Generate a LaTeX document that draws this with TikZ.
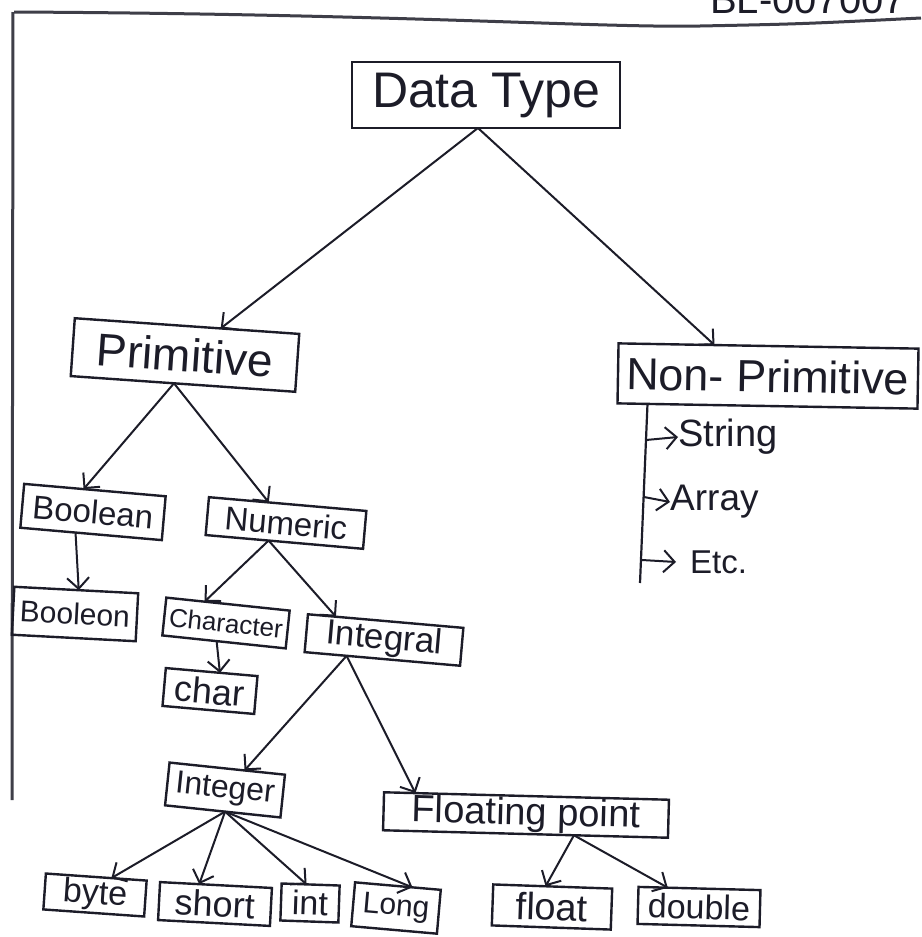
\documentclass[tikz,border=0pt]{standalone}
\usepackage{fontspec}
\setmainfont{Liberation Sans}
\usetikzlibrary{arrows.meta,calc}
\definecolor{ink}{RGB}{28,28,40}
\newcommand\tsz[1]{\fontsize{#1}{#1}\selectfont}
\tikzset{
  box/.style={draw=ink, line width=2.4pt, inner sep=0pt, outer sep=0pt, text=ink},
  link/.style={draw=ink, line width=2pt, -{Straight Barb[length=11pt,width=22pt,line width=2pt]}},
  item/.style={text=ink, inner sep=0pt, anchor=west},
  frame/.style={draw=ink!85, line width=3pt}
}
\begin{document}
\begin{tikzpicture}[x=1pt,y=-1pt]
\useasboundingbox (0,0) rectangle (921,937);
\fill[white] (0,0) rectangle (921,937);

% page frame and header
\draw[frame] (14,12) .. controls (400,14) and (600,28) .. (700,26) .. controls (800,24) .. (921,18);
\draw[frame] (13,12) -- (12,800);
\node[text=ink, anchor=base, font=\tsz{40}] (hdr) at (808,13) {BL-007007};

% boxes
\node[box, minimum width=268, minimum height=66, font=\tsz{50}] (dt) at (486,95) {Data Type};
\node[box, minimum width=225, minimum height=58, rotate=-4, font=\tsz{46}] (prim) at (185,355) {Primitive};
\node[box, minimum width=300, minimum height=60, rotate=-1, font=\tsz{45}] (np) at (768,376) {Non- Primitive};

\node[box, minimum width=142, minimum height=44, rotate=-5, font=\tsz{33}] (bool) at (93,512) {Boolean};
\node[box, minimum width=158, minimum height=38, rotate=-5, font=\tsz{33}] (num) at (286,523) {Numeric};
\node[box, minimum width=124, minimum height=48, rotate=-3, font=\tsz{30}] (boo) at (75,614) {Booleon};

\node[box, minimum width=124, minimum height=38, rotate=-6, font=\tsz{26}] (chr) at (226,623) {Character};
\node[box, minimum width=156, minimum height=38, rotate=-5, font=\tsz{35}] (intg) at (384,640) {Integral};
\node[box, minimum width=92, minimum height=38, rotate=-5, font=\tsz{36}] (ch) at (210,691) {char};

\node[box, minimum width=116, minimum height=43, rotate=-6, font=\tsz{32}] (ig) at (225,790) {Integer};
\node[box, minimum width=285, minimum height=38, rotate=-1.5, font=\tsz{38}] (fp) at (526,815) {Floating point};

\node[box, minimum width=101, minimum height=36, rotate=-4, font=\tsz{34}] (byte) at (95,895) {byte};
\node[box, minimum width=112, minimum height=38, rotate=-3, font=\tsz{36}] (short) at (215,904) {short};
\node[box, minimum width=58, minimum height=37, rotate=-2, font=\tsz{34}] (int) at (310,903) {int};
\node[box, minimum width=86, minimum height=44, rotate=-5, font=\tsz{30}] (long) at (396,908) {Long};
\node[box, minimum width=119, minimum height=41, rotate=-2, font=\tsz{38}] (flt) at (552,907) {float};
\node[box, minimum width=122, minimum height=37, rotate=-1.5, font=\tsz{34}] (dbl) at (699,907) {double};

% non-primitive members
\coordinate (npt) at ($(np.south west)!0.1!(np.south east)$);
\coordinate (npb) at (640,583);
\coordinate (v1) at (646,440);
\coordinate (v2) at (644,497);
\coordinate (v3) at (642,560);
\node[item, font=\tsz{38}] (str) at (678,437) {String};
\node[item, font=\tsz{37}] (arr) at (670,502) {Array};
\node[item, font=\tsz{33}] (etc) at (690,562) {Etc.};
\draw[ink, line width=2.2pt] (npt) -- (npb);
\draw[link] (v1) -- (str.west);
\draw[link] (v2) -- (arr.west);
\draw[link] (v3) -- ($(etc.west)+(-14,0)$);

% hierarchy
\draw[link] ($(dt.south west)!0.47!(dt.south east)$) -- ($(prim.north west)!0.65!(prim.north east)$);
\draw[link] ($(dt.south west)!0.47!(dt.south east)$) -- ($(np.north west)!0.32!(np.north east)$);

\draw[link] ($(prim.south west)!0.46!(prim.south east)$) -- ($(bool.north west)!0.42!(bool.north east)$);
\draw[link] ($(prim.south west)!0.46!(prim.south east)$) -- ($(num.north west)!0.38!(num.north east)$);

\draw[link] ($(bool.south west)!0.39!(bool.south east)$) -- ($(boo.north west)!0.52!(boo.north east)$);

\draw[link] ($(num.south west)!0.40!(num.south east)$) -- ($(chr.north west)!0.31!(chr.north east)$);
\draw[link] ($(num.south west)!0.40!(num.south east)$) -- ($(intg.north west)!0.18!(intg.north east)$);

\draw[link] ($(chr.south west)!0.44!(chr.south east)$) -- ($(ch.north west)!0.59!(ch.north east)$);

\draw[link] ($(intg.south west)!0.27!(intg.south east)$) -- ($(ig.north west)!0.65!(ig.north east)$);
\draw[link] ($(intg.south west)!0.27!(intg.south east)$) -- ($(fp.north west)!0.11!(fp.north east)$);

\draw[link] ($(ig.south west)!0.52!(ig.south east)$) -- ($(byte.north west)!0.65!(byte.north east)$);
\draw[link] ($(ig.south west)!0.52!(ig.south east)$) -- ($(short.north west)!0.35!(short.north east)$);
\draw[link] ($(ig.south west)!0.52!(ig.south east)$) -- ($(int.north west)!0.43!(int.north east)$);
\draw[link] ($(ig.south west)!0.52!(ig.south east)$) -- ($(long.north west)!0.67!(long.north east)$);

\draw[link] ($(fp.south west)!0.67!(fp.south east)$) -- ($(flt.north west)!0.44!(flt.north east)$);
\draw[link] ($(fp.south west)!0.67!(fp.south east)$) -- ($(dbl.north west)!0.24!(dbl.north east)$);
\end{tikzpicture}
\end{document}
